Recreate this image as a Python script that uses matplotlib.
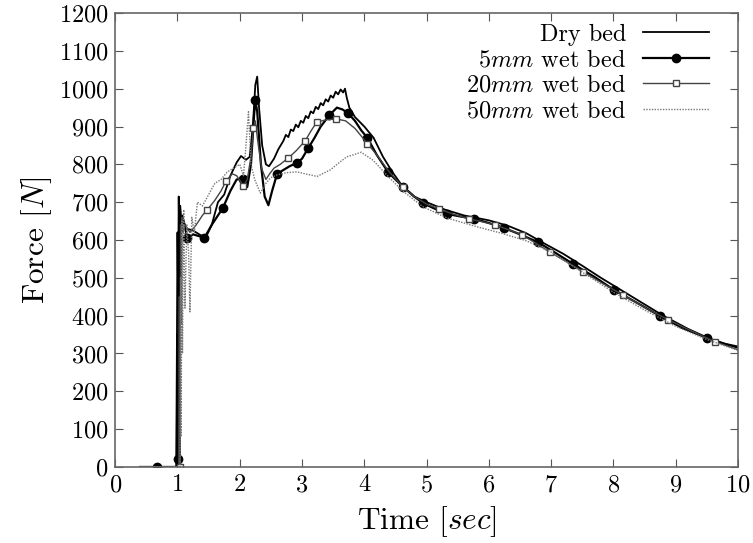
#!/usr/bin/env python3
"""Force vs time for a dry bed and three wet beds (5, 20, 50 mm)."""

import matplotlib
matplotlib.use('Agg')
import matplotlib.pyplot as plt

plt.rcParams['font.family'] = ['cmr10', 'DejaVu Serif']
plt.rcParams['mathtext.fontset'] = 'cm'
plt.rcParams['axes.unicode_minus'] = False
plt.rcParams['axes.formatter.use_mathtext'] = True

# --- data ---
dry_t = [0.40, 0.98, 0.99, 1.00, 1.01, 1.02, 1.03, 1.04, 1.06, 1.08, 1.10, 1.15,
         1.25, 1.35, 1.45, 1.55, 1.65, 1.75, 1.85, 1.95, 2.02, 2.10, 2.16, 2.21,
         2.25, 2.28, 2.31, 2.36, 2.42, 2.47, 2.55, 2.62, 2.70, 2.74, 2.78, 2.82,
         2.86, 2.90, 2.94, 2.98, 3.02, 3.06, 3.10, 3.14, 3.18, 3.22, 3.26, 3.30,
         3.34, 3.38, 3.42, 3.46, 3.50, 3.54, 3.58, 3.62, 3.66, 3.69, 3.72, 3.76,
         3.85, 4.00, 4.15, 4.30, 4.45, 4.60, 4.80, 5.00, 5.30, 5.60, 6.00, 6.30,
         6.60, 6.90, 7.20, 7.50, 7.80, 8.10, 8.40, 8.80, 9.20, 9.60, 10.00]
dry_f = [0, 0, 300, 620, 450, 715, 560, 690, 640, 665, 645, 630,
         625, 615, 605, 640, 700, 720, 770, 805, 822, 812, 820, 900,
         1010, 1032, 950, 850, 800, 795, 815, 840, 862, 878, 872, 892,
         888, 905, 898, 915, 910, 928, 922, 940, 935, 952, 946, 962,
         956, 972, 966, 982, 976, 992, 985, 998, 990, 1000, 975, 950,
         925, 900, 870, 820, 780, 745, 715, 700, 680, 665, 652, 638,
         618, 590, 563, 532, 500, 470, 440, 400, 365, 335, 315]

wet5_t = [0.40, 0.67, 0.99, 1.00, 1.01, 1.02, 1.03, 1.04, 1.06, 1.10, 1.16, 1.25,
          1.35, 1.43, 1.55, 1.65, 1.73, 1.85, 1.95, 2.05, 2.12, 2.18, 2.23, 2.25,
          2.28, 2.34, 2.40, 2.46, 2.52, 2.60, 2.70, 2.80, 2.92, 3.00, 3.10, 3.20,
          3.30, 3.44, 3.56, 3.65, 3.74, 3.85, 3.95, 4.05, 4.20, 4.38, 4.50, 4.62,
          4.80, 4.94, 5.10, 5.33, 5.55, 5.76, 6.00, 6.24, 6.50, 6.79, 7.05, 7.35,
          7.70, 8.01, 8.40, 8.75, 9.10, 9.50, 9.80, 10.00]
wet5_f = [0, 0, 0, 350, 21, 580, 420, 690, 630, 650, 605, 615,
          610, 605, 640, 665, 685, 730, 760, 762, 740, 800, 930, 970,
          940, 800, 715, 692, 730, 775, 785, 795, 804, 815, 843, 870,
          900, 930, 950, 945, 935, 915, 890, 870, 825, 780, 760, 741,
          715, 698, 685, 669, 662, 656, 645, 632, 615, 594, 568, 537,
          502, 468, 432, 399, 368, 341, 325, 318]
wet5_mark_t = [0.67, 1.01, 1.16, 1.43, 1.73, 2.05, 2.25, 2.60, 2.92, 3.10, 3.44,
               3.74, 4.05, 4.38, 4.62, 4.94, 5.33, 5.76, 6.24, 6.79, 7.35, 8.01,
               8.75, 9.50]

wet20_t = [0.40, 1.02, 1.03, 1.04, 1.05, 1.06, 1.07, 1.09, 1.12, 1.20, 1.30, 1.40,
           1.48, 1.60, 1.70, 1.78, 1.88, 1.95, 2.06, 2.12, 2.18, 2.22, 2.25, 2.29,
           2.35, 2.42, 2.48, 2.55, 2.65, 2.78, 2.90, 3.05, 3.15, 3.24, 3.40, 3.55,
           3.70, 3.85, 4.05, 4.20, 4.40, 4.62, 4.80, 5.00, 5.20, 5.40, 5.68, 5.90,
           6.10, 6.30, 6.53, 6.75, 6.98, 7.25, 7.51, 7.80, 8.15, 8.50, 8.88, 9.25,
           9.63, 10.00]
wet20_f = [0, 0, 450, 0, 640, 380, 660, 620, 640, 620, 640, 665,
           680, 705, 730, 756, 775, 770, 743, 760, 820, 896, 915, 860,
           790, 760, 775, 790, 800, 817, 835, 862, 890, 912, 918, 920,
           915, 895, 855, 825, 780, 740, 715, 695, 682, 670, 656, 648,
           640, 628, 614, 592, 568, 542, 516, 488, 455, 422, 389, 360,
           331, 310]
wet20_mark_t = [1.04, 1.48, 1.78, 2.06, 2.22, 2.78, 3.05, 3.24, 3.55, 4.05, 4.62,
                5.20, 5.68, 6.10, 6.53, 6.98, 7.51, 8.15, 8.88, 9.63]

wet50_t = [0.40, 1.04, 1.05, 1.06, 1.07, 1.08, 1.10, 1.12, 1.15, 1.18, 1.20, 1.23,
           1.27, 1.32, 1.40, 1.50, 1.60, 1.70, 1.80, 1.90, 2.00, 2.06, 2.10, 2.14,
           2.18, 2.24, 2.33, 2.42, 2.50, 2.60, 2.75, 2.92, 3.05, 3.24, 3.45, 3.60,
           3.72, 3.82, 3.95, 4.14, 4.36, 4.60, 4.94, 5.33, 5.81, 6.20, 6.60, 7.00,
           7.50, 8.00, 8.50, 9.00, 9.50, 10.00]
wet50_f = [0, 0, 500, 80, 650, 300, 680, 420, 640, 560, 410, 660,
           620, 700, 690, 720, 750, 760, 780, 790, 800, 770, 850, 939,
           800, 760, 724, 750, 765, 772, 778, 780, 775, 768, 785, 805,
           820, 825, 832, 811, 772, 732, 688, 658, 635, 618, 598, 568,
           515, 462, 415, 372, 337, 308]

x_ticks = list(range(0, 11))
y_ticks = list(range(0, 1201, 100))

fig = plt.figure(figsize=(7.53, 5.43), dpi=100)
ax = fig.add_axes([0.153, 0.14, 0.827, 0.836])

ax.plot(dry_t, dry_f, color='black', linewidth=1.3, label='Dry bed')
ax.plot(wet5_t, wet5_f, color='black', linewidth=1.6, marker='o', markersize=6,
        markevery=[wet5_t.index(t) for t in wet5_mark_t],
        label='5$mm$ wet bed')
ax.plot(wet20_t, wet20_f, color='#444444', linewidth=1.0, marker='s',
        markersize=4.5, markerfacecolor='white', markeredgecolor='#444444',
        markevery=[wet20_t.index(t) for t in wet20_mark_t],
        label='20$mm$ wet bed')
ax.plot(wet50_t, wet50_f, color='#777777', linewidth=1.0,
        linestyle=(0, (1, 1)), label='50$mm$ wet bed')

ax.set_xlim(0, 10)
ax.set_ylim(0, 1200)
ax.set_xticks(x_ticks)
ax.set_yticks(y_ticks)
ax.tick_params(direction='in', length=6, top=True, right=True,
               labelsize=17.5, color='#555555', pad=5)
for spine in ax.spines.values():
    spine.set_color('#666666')
    spine.set_linewidth(1.2)

ax.set_xlabel('Time [$sec$]', fontsize=22.5, labelpad=6)
ax.set_ylabel('Force [$N$]', fontsize=22.5, labelpad=3)

ax.legend(loc='upper right', bbox_to_anchor=(0.965, 0.993), frameon=False,
          markerfirst=False, fontsize=17.5, handlelength=2.7,
          labelspacing=0.14, borderaxespad=0.0, borderpad=0.3,
          handletextpad=0.7)

fig.savefig('out.png', dpi=100)
plt.close(fig)
